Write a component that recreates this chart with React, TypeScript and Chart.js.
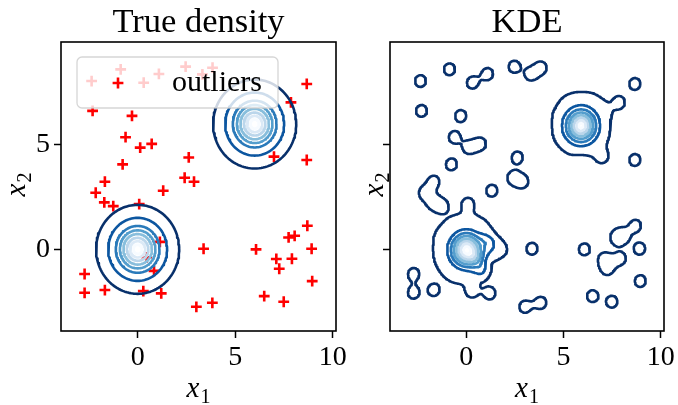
import React, { useEffect, useRef } from "react";
import { Chart, registerables } from "chart.js";
Chart.register(...registerables);

// ---------- axes ----------
const X_MIN = -3.93;
const X_MAX = 10.17;
const Y_MIN = -3.91;
const Y_MAX = 9.93;
const xTickValues = [0, 5, 10];
const yTickValues = [0, 5];

// ---------- outliers ----------
const outlierX = [
  -2.36, -0.87, 0.31, 1.09, 2.46, 3.32, 3.84, 8.67, 7.86, -2.31, -0.29, -0.62,
  0.13, 0.72, -0.77, 2.62, 6.99, 8.67, -1.68, 2.41, 2.89, -2.15, 1.31, -1.71,
  -1.25, 0.08, 1.14, 0.46, 0.84, -2.72, -2.72, -1.68, 0.29, 1.21, 3.01, 3.83,
  3.38, 6.07, 6.49, 7.49, 7.11, 7.26, 7.91, 7.74, 8.05, 8.7, 8.92, 8.95,
];
const outlierY = [
  8.06, 8.62, 7.98, 8.4, 8.75, 8.38, 8.7, 7.92, 7.04, 6.63, 6.39, 5.37, 4.87,
  5.05, 4.07, 4.4, 4.44, 4.28, 3.24, 3.43, 3.24, 2.71, 2.81, 2.25, 2.07, 2.17,
  0.36, -0.38, -1.03, -1.18, -2.08, -1.95, -2.0, -2.11, -2.75, -2.56, 0.03, 0.0,
  -2.24, -2.51, -0.46, -0.93, -0.45, 0.57, 0.65, 1.13, 0.03, -1.52,
];

// ---------- true density: cluster centres and contour radii ----------
const centerX = [0, 6];
const centerY = [0, 6];
const trueLevelRadii = [2.13, 1.51, 1.12, 0.91, 0.73, 0.55, 0.39, 0.22];

// ---------- KDE ----------
const kdeCenterX = [0.0, 5.9];
const kdeCenterY = [-0.02, 5.92];
// inner level radii (levels 2..8)
const kdeInnerRadiiA = [0.98, 0.8, 0.66, 0.53, 0.41, 0.28, 0.14];
const kdeInnerRadiiB = [0.98, 0.78, 0.63, 0.5, 0.38, 0.25, 0.12];
// outer level radius read every 30 degrees (0, 30, ..., 330)
const kdeOuterA = [2.1, 1.62, 1.72, 1.72, 1.75, 1.8, 1.72, 1.72, 1.72, 1.62, 1.56, 1.4];
const kdeOuterB = [1.5, 1.72, 1.68, 1.62, 1.65, 1.58, 1.5, 1.52, 1.5, 1.4, 1.52, 1.55];
const kdeLevels = [1, 3, 4.2, 5.4, 6.6, 7.8, 9, 10.2];
const kdePeak = 11;
const kdeBandwidth = 0.305;
const kdeLoopRatio = 0.6555; // outer level / single-kernel peak
const kdeTail = 0.25;

const levelColors = [
  "#08306b",
  "#0c56a0",
  "#2a7aba",
  "#549ecd",
  "#88bedc",
  "#bbd6eb",
  "#dbe9f6",
  "#f7fbff",
];

const SERIF = '"Liberation Serif", "Times New Roman", serif';

type P = { x: number; y: number };

function circlePoints(cx: number, cy: number, r: number): P[] {
  const pts: P[] = [];
  const n = 120;
  for (let i = 0; i <= n; i++) {
    const a = (i / n) * Math.PI * 2;
    pts.push({ x: cx + r * Math.cos(a), y: cy + r * Math.sin(a) });
  }
  return pts;
}

function outerRadius(outer: number[], ang: number): number {
  const n = outer.length;
  let t = ((ang / (Math.PI * 2)) * n) % n;
  if (t < 0) t += n;
  const i0 = Math.floor(t);
  const f = t - i0;
  const w = (1 - Math.cos(f * Math.PI)) / 2;
  return outer[i0] * (1 - w) + outer[(i0 + 1) % n] * w;
}

function clusterProfile(r: number, ang: number, inner: number[], outer: number[]): number {
  const radii = [outerRadius(outer, ang)].concat(inner);
  const n = radii.length;
  if (r >= radii[0]) return kdeLevels[0] * Math.exp(-(r - radii[0]) / kdeTail);
  for (let k = 0; k < n - 1; k++) {
    if (r >= radii[k + 1]) {
      const t = (radii[k] - r) / (radii[k] - radii[k + 1]);
      return kdeLevels[k] + t * (kdeLevels[k + 1] - kdeLevels[k]);
    }
  }
  const t = (radii[n - 1] - r) / radii[n - 1];
  return kdeLevels[n - 1] + t * (kdePeak - kdeLevels[n - 1]);
}

function kdeValue(x: number, y: number): number {
  const amp = kdeLevels[0] / kdeLoopRatio;
  const inv = 1 / (2 * kdeBandwidth * kdeBandwidth);
  let v = 0;
  for (let i = 0; i < outlierX.length; i++) {
    const dx = x - outlierX[i];
    const dy = y - outlierY[i];
    const d2 = dx * dx + dy * dy;
    if (d2 < 4) v += amp * Math.exp(-d2 * inv);
  }
  const inners = [kdeInnerRadiiA, kdeInnerRadiiB];
  const outers = [kdeOuterA, kdeOuterB];
  for (let c = 0; c < kdeCenterX.length; c++) {
    const dx = x - kdeCenterX[c];
    const dy = y - kdeCenterY[c];
    v += clusterProfile(Math.hypot(dx, dy), Math.atan2(dy, dx), inners[c], outers[c]);
  }
  return v;
}

function contourChains(
  vals: Float64Array,
  nx: number,
  ny: number,
  gx0: number,
  gy0: number,
  step: number,
  L: number
): P[][] {
  const pts = new Map<number, P>();
  const segA: number[] = [];
  const segB: number[] = [];
  for (let j = 0; j < ny - 1; j++) {
    for (let i = 0; i < nx - 1; i++) {
      const v0 = vals[j * nx + i];
      const v1 = vals[j * nx + i + 1];
      const v2 = vals[(j + 1) * nx + i + 1];
      const v3 = vals[(j + 1) * nx + i];
      const idx = (v0 > L ? 1 : 0) | (v1 > L ? 2 : 0) | (v2 > L ? 4 : 0) | (v3 > L ? 8 : 0);
      if (idx === 0 || idx === 15) continue;
      const x0 = gx0 + i * step;
      const x1 = x0 + step;
      const y0 = gy0 + j * step;
      const y1 = y0 + step;
      const ep = (key: number, xa: number, ya: number, va: number, xb: number, yb: number, vb: number) => {
        if (!pts.has(key)) {
          const t = (L - va) / (vb - va);
          pts.set(key, { x: xa + t * (xb - xa), y: ya + t * (yb - ya) });
        }
        return key;
      };
      const E = (e: number) => {
        if (e === 0) return ep((j * nx + i) * 2, x0, y0, v0, x1, y0, v1);
        if (e === 1) return ep((j * nx + i + 1) * 2 + 1, x1, y0, v1, x1, y1, v2);
        if (e === 2) return ep(((j + 1) * nx + i) * 2, x0, y1, v3, x1, y1, v2);
        return ep((j * nx + i) * 2 + 1, x0, y0, v0, x0, y1, v3);
      };
      let pairs: number[][];
      const center = (v0 + v1 + v2 + v3) / 4;
      switch (idx) {
        case 1: pairs = [[3, 0]]; break;
        case 2: pairs = [[0, 1]]; break;
        case 3: pairs = [[3, 1]]; break;
        case 4: pairs = [[1, 2]]; break;
        case 5: pairs = center > L ? [[0, 1], [2, 3]] : [[3, 0], [1, 2]]; break;
        case 6: pairs = [[0, 2]]; break;
        case 7: pairs = [[3, 2]]; break;
        case 8: pairs = [[2, 3]]; break;
        case 9: pairs = [[0, 2]]; break;
        case 10: pairs = center > L ? [[3, 0], [1, 2]] : [[0, 1], [2, 3]]; break;
        case 11: pairs = [[1, 2]]; break;
        case 12: pairs = [[1, 3]]; break;
        case 13: pairs = [[0, 1]]; break;
        default: pairs = [[3, 0]]; break;
      }
      for (const pr of pairs) {
        segA.push(E(pr[0]));
        segB.push(E(pr[1]));
      }
    }
  }
  const adj = new Map<number, number[]>();
  for (let s = 0; s < segA.length; s++) {
    for (const k of [segA[s], segB[s]]) {
      const l = adj.get(k);
      if (l) l.push(s);
      else adj.set(k, [s]);
    }
  }
  const used = new Uint8Array(segA.length);
  const chains: P[][] = [];
  const walk = (start: number): number[] => {
    const out: number[] = [];
    let cur = start;
    for (;;) {
      const list = adj.get(cur) || [];
      let next = -1;
      for (const s of list) if (!used[s]) { next = s; break; }
      if (next < 0) break;
      used[next] = 1;
      const other = segA[next] === cur ? segB[next] : segA[next];
      out.push(other);
      cur = other;
    }
    return out;
  };
  for (let s0 = 0; s0 < segA.length; s0++) {
    if (used[s0]) continue;
    used[s0] = 1;
    const fwd = walk(segB[s0]);
    const back = walk(segA[s0]);
    const keys = back.reverse().concat([segA[s0], segB[s0]], fwd);
    if (keys.length < 4) continue;
    chains.push(keys.map((k) => pts.get(k)!));
  }
  return chains;
}

function lineDataset(data: P[], color: string) {
  return {
    data,
    showLine: true,
    borderColor: color,
    borderWidth: 2.6,
    pointRadius: 0,
    pointHoverRadius: 0,
    fill: false,
    tension: 0,
    borderCapStyle: "round",
    borderJoinStyle: "round",
    order: 0,
  };
}

function outlierDataset() {
  return {
    data: outlierX.map((x, i) => ({ x, y: outlierY[i] })),
    showLine: false,
    pointStyle: "cross",
    pointRadius: 5.4,
    pointHoverRadius: 5.4,
    borderColor: "#ff0000",
    pointBorderColor: "#ff0000",
    backgroundColor: "#ff0000",
    pointBorderWidth: 2.6,
    borderWidth: 2.6,
    order: 10,
  };
}

function trueDatasets() {
  const ds: any[] = [outlierDataset()];
  for (let c = 0; c < centerX.length; c++) {
    trueLevelRadii.forEach((r, k) => {
      ds.push(lineDataset(circlePoints(centerX[c], centerY[c], r), levelColors[k]));
    });
  }
  return ds;
}

function kdeDatasets() {
  const step = 0.04;
  const gx0 = -4.2;
  const gy0 = -4.2;
  const nx = Math.round((10.5 - gx0) / step) + 1;
  const ny = Math.round((10.3 - gy0) / step) + 1;
  const vals = new Float64Array(nx * ny);
  for (let j = 0; j < ny; j++) {
    for (let i = 0; i < nx; i++) {
      vals[j * nx + i] = kdeValue(gx0 + i * step, gy0 + j * step);
    }
  }
  const ds: any[] = [];
  kdeLevels.forEach((L, k) => {
    const chains = contourChains(vals, nx, ny, gx0, gy0, step, L);
    for (const ch of chains) ds.push(lineDataset(ch, levelColors[k]));
  });
  return ds;
}

function drawSubLabel(ctx: CanvasRenderingContext2D, main: string, sub: string, x: number, y: number, rotate: boolean) {
  const fMain = `italic 29px ${SERIF}`;
  const fSub = `20px ${SERIF}`;
  ctx.save();
  ctx.font = fMain;
  const w1 = ctx.measureText(main).width;
  ctx.font = fSub;
  const w2 = ctx.measureText(sub).width;
  const total = w1 + 1 + w2;
  ctx.translate(x, y);
  if (rotate) ctx.rotate(-Math.PI / 2);
  ctx.fillStyle = "#000";
  ctx.textAlign = "left";
  ctx.textBaseline = "alphabetic";
  ctx.font = fMain;
  ctx.fillText(main, -total / 2, 0);
  ctx.font = fSub;
  ctx.fillText(sub, -total / 2 + w1 + 1, 6);
  ctx.restore();
}

function decorPlugin(title: string, withLegend: boolean, yLabelX: number) {
  return {
    id: "decor-" + title,
    afterDatasetsDraw(chart: any) {
      const { ctx, chartArea: a } = chart;
      ctx.save();
      ctx.strokeStyle = "#000";
      ctx.lineWidth = 1.6;
      ctx.strokeRect(a.left, a.top, a.right - a.left, a.bottom - a.top);
      ctx.restore();
      if (withLegend) {
        const lx = a.left + 16;
        const ly = a.top + 15;
        const lw = 201;
        const lh = 51;
        ctx.save();
        ctx.beginPath();
        if ((ctx as any).roundRect) (ctx as any).roundRect(lx, ly, lw, lh, 5);
        else ctx.rect(lx, ly, lw, lh);
        ctx.fillStyle = "rgba(255,255,255,0.8)";
        ctx.fill();
        ctx.strokeStyle = "rgba(204,204,204,0.8)";
        ctx.lineWidth = 1.3;
        ctx.stroke();
        const mx = lx + 41;
        const my = ly + 26;
        ctx.strokeStyle = "#ff0000";
        ctx.lineWidth = 2.6;
        ctx.beginPath();
        ctx.moveTo(mx - 5.4, my);
        ctx.lineTo(mx + 5.4, my);
        ctx.moveTo(mx, my - 5.4);
        ctx.lineTo(mx, my + 5.4);
        ctx.stroke();
        ctx.fillStyle = "#000";
        ctx.font = `30px ${SERIF}`;
        ctx.textAlign = "left";
        ctx.textBaseline = "alphabetic";
        ctx.fillText("outliers", lx + 95, ly + 34);
        ctx.restore();
      }
    },
    afterDraw(chart: any) {
      const { ctx, chartArea: a } = chart;
      const cx = (a.left + a.right) / 2;
      ctx.save();
      ctx.fillStyle = "#000";
      ctx.font = `34.5px ${SERIF}`;
      ctx.textAlign = "center";
      ctx.textBaseline = "alphabetic";
      ctx.fillText(title, cx, 32);
      ctx.restore();
      drawSubLabel(ctx, "x", "1", cx, 397, false);
      drawSubLabel(ctx, "x", "2", yLabelX, (a.top + a.bottom) / 2 - 2, true);
    },
  };
}

function makeConfig(datasets: any[], opts: { yWidth: number; padRight: number; yLabels: boolean; title: string; legend: boolean; yLabelX: number }) {
  const tickFont = { family: SERIF, size: 28 };
  return {
    type: "scatter",
    data: { datasets },
    options: {
      responsive: false,
      animation: false,
      devicePixelRatio: 1,
      events: [],
      layout: { autoPadding: false, padding: { left: 0, right: opts.padRight, top: 42, bottom: 0 } },
      plugins: { legend: { display: false }, tooltip: { enabled: false }, title: { display: false } },
      scales: {
        x: {
          type: "linear",
          position: "bottom",
          min: X_MIN,
          max: X_MAX,
          afterBuildTicks: (s: any) => {
            s.ticks = xTickValues.map((v) => ({ value: v }));
          },
          afterFit: (s: any) => {
            s.height = 74;
            s.paddingLeft = 0;
            s.paddingRight = 0;
          },
          ticks: { font: tickFont, color: "#000", padding: 3, maxRotation: 0, autoSkip: false },
          grid: { display: true, drawOnChartArea: false, drawTicks: true, tickLength: 7, tickWidth: 1.5, tickColor: "#000" },
          border: { display: false },
        },
        y: {
          type: "linear",
          position: "left",
          min: Y_MIN,
          max: Y_MAX,
          afterBuildTicks: (s: any) => {
            s.ticks = yTickValues.map((v) => ({ value: v }));
          },
          afterFit: (s: any) => {
            s.width = opts.yWidth;
            s.paddingTop = 0;
            s.paddingBottom = 0;
          },
          ticks: {
            font: tickFont,
            color: "#000",
            padding: 4,
            autoSkip: false,
            callback: (v: any) => (opts.yLabels ? String(v) : ""),
          },
          grid: { display: true, drawOnChartArea: false, drawTicks: true, tickLength: 7, tickWidth: 1.5, tickColor: "#000" },
          border: { display: false },
        },
      },
    },
    plugins: [decorPlugin(opts.title, opts.legend, opts.yLabelX)],
  };
}

export default function App() {
  const leftRef = useRef<HTMLCanvasElement>(null);
  const rightRef = useRef<HTMLCanvasElement>(null);
  useEffect(() => {
    const c1 = new Chart(
      leftRef.current as HTMLCanvasElement,
      makeConfig(trueDatasets(), { yWidth: 61, padRight: 24, yLabels: true, title: "True density", legend: true, yLabelX: 25 }) as any
    );
    const c2 = new Chart(
      rightRef.current as HTMLCanvasElement,
      makeConfig(kdeDatasets(), { yWidth: 51, padRight: 14, yLabels: false, title: "KDE", legend: false, yLabelX: 44 }) as any
    );
    return () => {
      c1.destroy();
      c2.destroy();
    };
  }, []);
  return (
    <div style={{ position: "fixed", left: 0, top: 0, width: 678, height: 405, background: "#fff" }}>
      <canvas ref={leftRef} width={360} height={405} style={{ position: "absolute", left: 0, top: 0, width: 360, height: 405 }} />
      <canvas ref={rightRef} width={339} height={405} style={{ position: "absolute", left: 339, top: 0, width: 339, height: 405 }} />
    </div>
  );
}
